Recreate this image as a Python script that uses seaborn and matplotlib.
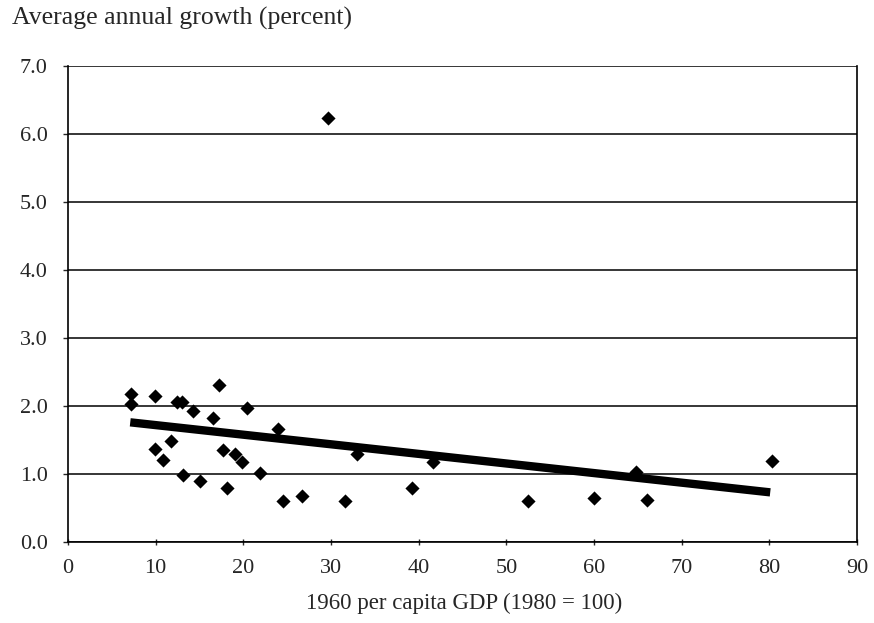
import matplotlib
matplotlib.use("Agg")
import matplotlib.pyplot as plt
import seaborn as sns
import pandas as pd

# Data
gdp_1960 = [7.2, 7.2, 9.9, 9.9, 10.8, 11.8, 12.4, 13.0, 13.1, 14.3, 15.0, 16.5,
            17.2, 17.7, 18.1, 19.0, 19.8, 20.4, 21.9, 23.9, 24.5, 26.7, 29.7,
            31.6, 33.0, 39.2, 41.6, 52.5, 60.0, 64.8, 66.1, 80.3]
growth = [2.17, 2.03, 2.15, 1.37, 1.20, 1.49, 2.06, 2.06, 0.99, 1.93, 0.89, 1.83,
          2.31, 1.35, 0.80, 1.30, 1.18, 1.97, 1.02, 1.66, 0.60, 0.68, 6.23,
          0.60, 1.29, 0.80, 1.17, 0.61, 0.64, 1.03, 0.62, 1.19]
trend_x = [7.1, 80.1]
trend_y = [1.76, 0.73]
x_ticks = [0, 10, 20, 30, 40, 50, 60, 70, 80, 90]
y_ticks = [0.0, 1.0, 2.0, 3.0, 4.0, 5.0, 6.0, 7.0]

df = pd.DataFrame({"gdp": gdp_1960, "growth": growth})
trend = pd.DataFrame({"x": trend_x, "y": trend_y})

sns.set_style("white")
plt.rcParams["font.family"] = ["Liberation Serif", "DejaVu Serif"]

fig = plt.figure(figsize=(8.74, 6.23), dpi=100)
ax = fig.add_axes([68/874, 1-542/623, (857-68)/874, (542-66)/623])

for yv in y_ticks:
    ax.axhline(yv, color="black", lw=1.1, zorder=1)

sns.lineplot(data=trend, x="x", y="y", ax=ax, color="black", lw=6,
             solid_capstyle="butt", zorder=3)
sns.scatterplot(data=df, x="gdp", y="growth", ax=ax, marker="D", s=52,
                color="black", edgecolor="black", linewidth=0, zorder=4)

ax.set_xlim(0, 90)
ax.set_ylim(0, 7)
ax.set_xticks(x_ticks)
ax.set_xticklabels([str(v) for v in x_ticks])
ax.set_yticks(y_ticks)
ax.set_yticklabels([f"{v:.1f}" for v in y_ticks])
ax.tick_params(axis="y", direction="out", length=3.5, width=1, pad=11,
               labelsize=16, left=True)
ax.tick_params(axis="x", direction="inout", length=5, width=1, pad=10,
               labelsize=16, bottom=True)
for side in ["left", "bottom", "right"]:
    ax.spines[side].set_visible(True)
    ax.spines[side].set_color("black")
    ax.spines[side].set_linewidth(1.2)
ax.spines["top"].set_visible(False)
ax.set_xlabel("")
ax.set_ylabel("")

fig.text(12/874, 1-18/623, "Average annual growth (percent)", fontsize=18.5,
         ha="left", va="center")
fig.text(464/874, 1-603/623, "1960 per capita GDP (1980 = 100)", fontsize=16.5,
         ha="center", va="center")

fig.savefig("out.png", dpi=100)
